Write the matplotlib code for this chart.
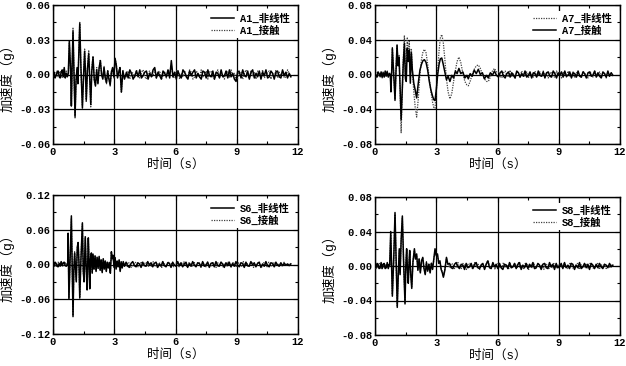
import numpy as np
import matplotlib
matplotlib.use("Agg")
import matplotlib.pyplot as plt
from matplotlib.ticker import MultipleLocator, FormatStrFormatter

plt.rcParams['font.family'] = ['Liberation Mono', 'Noto Sans CJK SC']
plt.rcParams['font.size'] = 7.5

# ---------------- data (values in 1e-3 g) ----------------
# A1
a1_pre_nl = [0, 2, -3, -1, 2, 3, -1, -3, 2, 4, -2, 6, -3, 1, -2]
a1_pre_ct = [1, -1, -2, 2, 3, -2, 0, 3, -2, -3, 3, 5, -2, 3, -1]
a1_t = [0.75, 0.80, 0.86, 0.90, 0.94, 0.98, 1.03, 1.08, 1.13, 1.18, 1.22, 1.27, 1.31, 1.37, 1.44, 1.50, 1.55,
        1.59, 1.63, 1.69, 1.75, 1.80, 1.85, 1.90, 1.96, 2.02, 2.08, 2.14, 2.20, 2.26, 2.32, 2.38, 2.44, 2.50,
        2.56, 2.62, 2.68, 2.74, 2.80, 2.86, 2.92, 2.98, 3.04, 3.10, 3.16, 3.22, 3.28, 3.35, 3.42, 3.50]
a1_nl = [1, 29, 5, -27, 10, 37, 0, -36, -5, 6, -8, 20, 44, 5, -29, 0, 20, 2, -22, 5, 18, -5, -26, 3, 15,
         -4, -10, 4, -8, 6, 12, 0, -4, 6, -3, -7, 3, -4, -9, 2, 6, -2, 14, 8, -3, 2, 6, -15, 3, -4]
a1_ct = [0, 27, 3, -28, 8, 40, -2, -38, -3, 5, -6, 22, 45, 3, -27, 2, 22, 0, -24, 7, 21, -3, -28, 5, 16,
         -6, -9, 6, -7, 5, 13, -2, -3, 7, -4, -8, 4, -3, -10, 3, 5, -3, 13, 9, -2, 3, 5, -16, 4, -3]
a1_tail_nl = [2, -3, 4, 1, -4, -1, 3, -2, 4, -3, -1, 2, 3, -4, 1, -2, 4, 6, -3, 2, -1, -4, 3, 1, -2, 4, -3,
              12, -2, 2, -4, 3, -1, -3, 4, 2, -2, -4, 3, -1, 2, 4, -3, 1, -2, -4, 3, 2, -3, 4, -1, -2, 3,
              -4, 2, 1, -3, 4, -2, -1, 3, -3, 4, -2, 1, -4, -6, 3, 2, -3, 4, -1, -2, 3, -4, 2, 4, -3, 1,
              -2, 3, -4, 2, -1, 4, -3, -2, 3, 1, -4, 2, 3, -2, -3, 4, -1, 2, -3, 1, -2]
a1_tail_ct = [-2, 3, -4, 2, 1, -3, 4, -1, -3, 2, 4, -2, -4, 1, 3, -2, -1, 4, -3, 2, 3, -4, -1, 2, -3, 4, 1,
              8, -3, -2, 3, 4, -4, 1, -2, 3, -1, -3, 4, 2, -4, -2, 3, 1, -3, 4, -2, -1, 3, -4, 2, 3, -2,
              -4, 1, 4, -3, 2, -1, -4, 3, 2, -3, 4, -2, 1, -5, -3, 3, 2, -4, 1, 4, -2, -3, 3, -1, 2, -4,
              3, 1, -2, 4, -3, -1, 2, 3, -4, 1, -2, 4, -3, 2, -1, 3, -3, -2, 4, 1, -2]

# A7
a7_pre_nl = [1, -3, 2, 3, -2, -3, 2, -4, 3, 1, -2, -3, 4, -2, 2]
a7_pre_ct = [2, -2, -3, 3, 1, -2, 3, -3, 2, -3, 4, -1, 3, -3, 1]
a7_t = [0.75, 0.78, 0.82, 0.85, 0.90, 0.94, 0.98, 1.03, 1.08, 1.13, 1.18, 1.23, 1.28, 1.33, 1.38, 1.44, 1.49,
        1.53, 1.58, 1.63, 1.68, 1.73, 1.78, 1.83, 1.90, 1.97, 2.04, 2.12, 2.20, 2.28, 2.35, 2.42, 2.50, 2.58,
        2.66, 2.74, 2.82, 2.88, 2.94, 3.00, 3.07, 3.14, 3.20, 3.27, 3.34, 3.42, 3.50, 3.58, 3.67, 3.76, 3.85,
        3.94, 4.02, 4.11, 4.20, 4.30, 4.40, 4.50, 4.57, 4.66, 4.76, 4.86, 4.96, 5.06, 5.16, 5.26, 5.36, 5.46,
        5.55, 5.65, 5.75, 5.85, 5.95]
a7_nl = [1, -18, 6, 31, 10, -8, -30, 6, 33, 12, 22, -18, -67, -25, 15, 45, 0, 10, 42, 20, 38, 0, 30, 5, -20,
         -38, -49, -28, 0, 18, 26, 29, 25, 12, -5, -20, -32, -38, -39, -20, 5, 28, 42, 46, 38, 18, -5, -20,
         -28, -22, -8, 5, 15, 20, 14, 2, -8, -12, -13, -8, 0, 6, 10, 11, 7, 0, -5, -8, -8, -3, 4, 7, 3]
a7_ct = [0, -20, 5, 30, 8, -10, -29, 5, 34, 10, 20, -15, -52, -20, 10, 36, -5, -8, 30, 15, 28, -10, 25, 5,
         -10, -18, -27, -10, 5, 12, 16, 17, 14, 5, -8, -18, -25, -29, -30, -18, 0, 12, 18, 19, 12, 3, -6, -2,
         -8, -1, -4, 4, 1, 7, 1, 3, -4, -1, -5, 1, -2, 5, 1, 6, 0, 2, -5, -1, -4, 2, -1, 4, -1]
a7_tail_nl = [3, -2, -4, 2, 4, -1, -3, 5, -2, 1, -4, 3, 2, -3, 4, -1, -2, 3, -4, 2, 1, -3, 4, -2, -1, 3, -3,
              4, -2, 2, -4, 1, 3, -2, -3, 4, -1, 2, -4, 3, 1, -3, 4, -2, -1, 3, -4, 2, 3, -2, -3, 4, 1, -2,
              -4, 3, 2, -3, 4, -1, -2, 3, -3, 2, 1, -4, 3, -2, 2, -1]
a7_tail_ct = [-3, 2, 4, -2, -4, 1, 3, -3, 2, -1, -4, 4, 2, -3, 1, -2, 4, -3, -1, 3, -4, 2, 1, -3, 4, -1, -2,
              3, -4, 2, 3, -2, -3, 4, 1, -4, 2, -1, 3, -3, 4, -2, -1, 3, -4, 2, 1, -3, 4, -2, -3, 3, 1, -4,
              2, 3, -2, -1, 4, -3, 2, -2, -4, 3, 1, -3, 4, -2, 2, -1]

# S6
s6_pre_nl = [1, -3, 4, 2, -3, -4, 2, -3, 5, -2, 3, 4, -2, -3, 1]
s6_pre_ct = [0, -2, 3, -3, -1, 4, 3, -2, 4, -3, -2, 3, 3, -2, 2]
s6_t = [0.72, 0.74, 0.78, 0.84, 0.90, 0.98, 1.02, 1.06, 1.10, 1.14, 1.19, 1.23, 1.27, 1.31, 1.37, 1.44, 1.48,
        1.52, 1.58, 1.63, 1.67, 1.73, 1.77, 1.80, 1.84, 1.88, 1.92, 1.96, 2.01, 2.06, 2.11, 2.16, 2.21, 2.26,
        2.31, 2.36, 2.41, 2.46, 2.51, 2.56, 2.61, 2.66, 2.71, 2.76, 2.81, 2.86, 2.90, 2.94, 2.99, 3.04, 3.09,
        3.14, 3.19, 3.24, 3.29, 3.34, 3.39, 3.44, 3.50]
s6_nl = [2, 54, -60, 10, 84, -90, -10, 20, -5, -30, 30, 38, 5, -58, 10, 72, -10, -30, 48, -10, -44, 46, 0,
         -42, 10, 20, -15, 18, -8, 15, -12, 12, -6, 14, -10, 8, -14, 10, -8, 6, -12, 4, -6, 3, -15, 22, 10,
         16, -5, 12, -8, 6, -4, 8, -12, 4, -6, 5, -3]
s6_ct = [1, 50, -58, 8, 80, -88, -8, 22, -6, -28, 28, 36, 6, -56, 12, 70, -12, -28, 45, -8, -42, 44, 2,
         -40, 12, 18, -13, 16, -9, 14, -11, 13, -7, 12, -9, 9, -13, 9, -7, 7, -11, 5, -5, 4, -14, 20, 11,
         15, -4, 11, -7, 7, -5, 7, -11, 5, -5, 4, -2]
s6_tail_nl = [4, -3, -5, 2, 5, -2, -4, 3, 1, -5, 4, -2, -3, 5, -1, 3, -4, 2, 4, -5, 1, -3, 5, -2, -4, 3, 2,
              -5, 4, -1, -3, 5, -2, 3, -4, 1, 4, -5, 2, -3, 5, -1, -4, 3, 2, -4, 5, -3, -1, 4, -5, 2, 3, -4,
              5, -2, -3, 4, 1, -5, 3, -2, 4, -4, 2, -3, 5, -1, -4, 3, 2, -5, 4, -2, -3, 5, -1, 3, -4, 2, 4,
              -5, 1, -3, 5, -2, -4, 3, 2, -4, 4, -1, -3, 3, -2, 2, -1, 1, -2, 1]
s6_tail_ct = [-3, 4, 2, -5, -2, 4, 3, -4, -1, 5, -3, 2, 4, -4, 1, -3, 5, -2, -4, 3, 2, -5, 4, -1, -3, 5, -2,
              3, -4, 1, 4, -5, 2, -3, 5, -1, -4, 3, 2, -4, 5, -3, -1, 4, -5, 2, 3, -4, 5, -2, -3, 4, 1, -5,
              3, -2, 4, -4, 2, -3, 5, -1, -4, 3, 2, -5, 4, -2, -3, 5, -1, 3, -4, 2, 4, -5, 1, -3, 5, -2, -4,
              3, 2, -4, 4, -1, -3, 3, -2, 2, -1, 1, -3, 4, -2, 1, -1, 2]

# S8
s8_pre_nl = [1, -2, 3, 2, -3, -2, 4, -3, 2, 3, -3, -2, 4, -3, 2]
s8_pre_ct = [0, -3, 2, -2, 3, 2, -3, -2, 3, -2, 2, -3, 3, -2, 1]
s8_t = [0.72, 0.77, 0.85, 0.92, 0.98, 1.03, 1.09, 1.14, 1.19, 1.23, 1.28, 1.34, 1.40, 1.47, 1.51, 1.55, 1.59,
        1.63, 1.67, 1.70, 1.75, 1.80, 1.86, 1.93, 1.98, 2.04, 2.10, 2.16, 2.22, 2.28, 2.34, 2.40, 2.46, 2.52,
        2.58, 2.64, 2.70, 2.76, 2.82, 2.88, 2.94, 3.00, 3.06, 3.12, 3.18, 3.24, 3.30, 3.35, 3.42, 3.50, 3.57]
s8_nl = [1, 40, -35, 10, 62, 10, -48, -10, 20, -10, 30, 58, 5, -44, 0, 20, -5, -20, 5, 18, -10, -26, 5, 20,
         8, 14, -5, 8, -8, 6, 10, -3, -10, 4, -6, 2, -8, 3, -4, 8, 20, 12, 14, 3, 6, -4, -8, -13, -5, 10, 2]
s8_ct = [0, 38, -33, 9, 60, 8, -46, -8, 18, -8, 28, 56, 6, -42, 2, 18, -3, -18, 6, 16, -8, -24, 6, 18,
         9, 12, -4, 9, -7, 7, 9, -2, -9, 5, -5, 3, -7, 4, -3, 7, 18, 13, 12, 4, 5, -3, -7, -12, -4, 9, 3]
s8_tail_nl = [3, -2, -3, 2, 4, -1, -3, 2, 1, -4, 3, -2, -1, 3, -3, 2, 4, -2, -3, 1, 3, -4, 2, 6, -2, -3, 4,
              -1, 2, -3, 3, -2, -4, 2, 1, -3, 4, -2, -1, 3, -3, 2, 4, -4, 1, -2, 3, -3, 2, -1, 4, -3, -2, 3,
              1, -4, 2, 3, -2, -3, 4, -1, 2, -4, 3, -2, -1, 3, -3, 4, -2, 1, -3, 3, 2, -4, 1, -2, 4, -3, -1,
              3, -2, 2, -4, 3, 1, -3, 2, -2, 3, -1, -3, 2, 1, -2, 3, -1, 1]
s8_tail_ct = [-2, 3, 2, -3, -1, 4, -2, -3, 3, 1, -4, 2, 3, -2, -3, 4, -1, 2, -4, 3, 1, -3, 4, 6, -2, -1, 3,
              -4, 2, 3, -2, -3, 4, -1, 2, -4, 3, -2, -1, 3, -3, 4, -2, 1, -3, 3, 2, -4, 1, -2, 4, -3, -1, 3,
              -2, 2, -4, 3, 1, -3, 2, -2, 3, -1, -3, 2, 1, -2, 3, -1, -3, 2, 4, -2, -3, 1, 3, -4, 2, -2, -1,
              3, -3, 2, 4, -2, -3, 1, 3, -4, 2, -1, 2, -3, 1, -2, 2, -1]

x_ticks = [0, 3, 6, 9, 12]
x_label = "时间（s）"
y_label = "加速度（g）"


def build(pre, ts, vals, tail_start, tail):
    t = np.concatenate([np.linspace(0.0, 0.70, len(pre)), np.asarray(ts, float),
                        np.linspace(tail_start, 11.65, len(tail))])
    y = np.concatenate([pre, vals, tail]).astype(float) * 1e-3
    return t, y


panels = [
    ([53 / 626, 1 - 144 / 366, 245 / 626, 139 / 366], 0.06, 0.03,
     [("A1_非线性", build(a1_pre_nl, a1_t, a1_nl, 3.6, a1_tail_nl), '-'),
      ("A1_接触", build(a1_pre_ct, a1_t, a1_ct, 3.6, a1_tail_ct), ':')]),
    ([375 / 626, 1 - 144 / 366, 245 / 626, 139 / 366], 0.08, 0.04,
     [("A7_非线性", build(a7_pre_nl, a7_t, a7_nl, 6.05, a7_tail_nl), ':'),
      ("A7_接触", build(a7_pre_ct, a7_t, a7_ct, 6.05, a7_tail_ct), '-')]),
    ([53 / 626, 1 - 334 / 366, 245 / 626, 139 / 366], 0.12, 0.06,
     [("S6_非线性", build(s6_pre_nl, s6_t, s6_nl, 3.58, s6_tail_nl), '-'),
      ("S6_接触", build(s6_pre_ct, s6_t, s6_ct, 3.58, s6_tail_ct), ':')]),
    ([375 / 626, 1 - 335 / 366, 245 / 626, 138 / 366], 0.08, 0.04,
     [("S8_非线性", build(s8_pre_nl, s8_t, s8_nl, 3.65, s8_tail_nl), '-'),
      ("S8_接触", build(s8_pre_ct, s8_t, s8_ct, 3.65, s8_tail_ct), ':')]),
]

fig = plt.figure(figsize=(6.26, 3.66), dpi=100)
for rect, ylim, ystep, series in panels:
    ax = fig.add_axes(rect)
    handles = {}
    for style_first in (':', '-'):
        for label, (t, y), style in series:
            if style != style_first:
                continue
            if style == ':':
                h, = ax.plot(t, y, color='#404040', lw=0.9, ls=(0, (1, 1)), label=label, zorder=3)
            else:
                h, = ax.plot(t, y, color='black', lw=1.1, ls='-', label=label, zorder=4)
            handles[label] = h
    ax.set_xlim(0, 12)
    ax.set_ylim(-ylim, ylim)
    ax.set_xticks(x_ticks)
    ax.xaxis.set_minor_locator(MultipleLocator(1.5))
    ax.set_yticks(np.arange(-ylim, ylim + ystep / 2, ystep))
    ax.yaxis.set_minor_locator(MultipleLocator(ystep / 2))
    ax.yaxis.set_major_formatter(FormatStrFormatter('%.2f'))
    ax.tick_params(which='both', direction='in', top=True, right=True, labelsize=7.5, pad=2)
    ax.tick_params(which='major', length=3.5, width=0.8)
    ax.tick_params(which='minor', length=2, width=0.8)
    for lab in ax.get_xticklabels() + ax.get_yticklabels():
        lab.set_fontweight('bold')
    ax.grid(True, which='major', color='black', lw=0.9, zorder=1)
    for sp in ax.spines.values():
        sp.set_linewidth(1.0)
    ax.set_xlabel(x_label, fontsize=9)
    ax.set_ylabel(y_label, fontsize=9.5)
    ax.xaxis.set_label_coords(0.5, -0.105)
    ax.yaxis.set_label_coords(-0.155, 0.5)
    leg = ax.legend([handles[s[0]] for s in series], [s[0] for s in series],
                    loc='upper right', frameon=True, handlelength=2.2,
                    prop={'size': 7.5, 'weight': 'bold'},
                    borderaxespad=0.6, labelspacing=0.2, handletextpad=0.6, borderpad=0.2)
    leg.get_frame().set_edgecolor('none')
    leg.get_frame().set_facecolor('white')
    leg.get_frame().set_alpha(1)
    leg.set_zorder(10)

fig.savefig("out.png", dpi=100)
